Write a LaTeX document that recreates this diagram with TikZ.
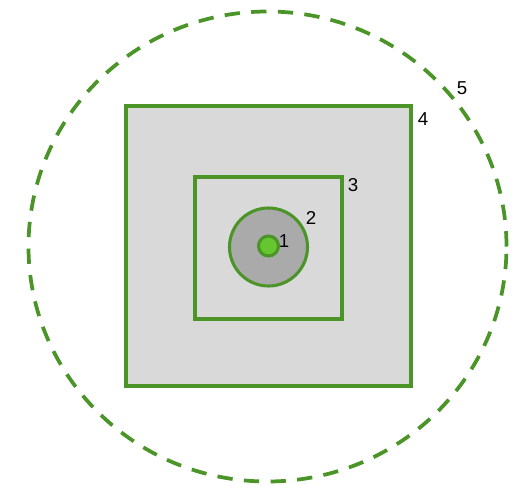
\documentclass[tikz,border=0pt]{standalone}
\usepackage{fontspec}
\setmainfont{Liberation Sans}
\usetikzlibrary{positioning, shapes.geometric}
\definecolor{cline}{RGB}{74,148,40}
\definecolor{cfill}{RGB}{217,217,217}
\definecolor{cring}{RGB}{170,170,170}
\definecolor{ccore}{RGB}{102,198,48}

\begin{document}
\begin{tikzpicture}[
  x=0.75pt, y=-0.75pt,
  font=\fontsize{14}{16}\selectfont,
  zone/.style={draw=cline, line width=2.3pt, inner sep=0pt},
  sq/.style={zone, rectangle, fill=cfill},
  disc/.style={zone, circle},
  lab/.style={inner sep=1pt},
]
\useasboundingbox (0,0) rectangle (519,486);
% outer boundary
\node[zone, ellipse, dashed, dash pattern=on 11.5pt off 8.5pt, line width=2.8pt,
  minimum width=358.5pt, minimum height=352.5pt] (rim) at (267.5,246.5) {};
\node[sq, minimum width=213.75pt, minimum height=210pt] (outer) at (268.5,246) {};
\node[sq, minimum width=110.25pt, minimum height=106.5pt] (inner) at (268.5,248) {};
\node[disc, fill=cring, minimum size=58.5pt] (ring) at (268.5,247) {};
\node[disc, fill=ccore, minimum size=15pt] (core) at (268.5,246) {};
% numbers
\node[lab] (n1) at (284,241) {1};
\node[lab] (n2) at (311,218) {2};
\node[lab] (n3) at (353,185) {3};
\node[lab] (n4) at (423,119) {4};
\node[lab] (n5) at (462,88) {5};
\end{tikzpicture}
\end{document}
